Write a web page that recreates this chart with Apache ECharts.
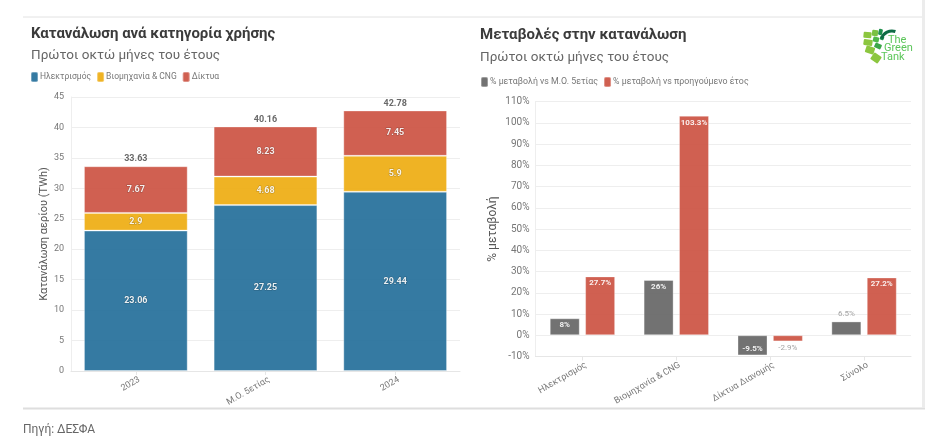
<!DOCTYPE html>
<html><head><meta charset="utf-8">
<style>html,body{margin:0;padding:0;background:#fff}#c{width:925px;height:447px}</style>
<script src="https://cdn.jsdelivr.net/npm/echarts@6/dist/echarts.min.js"></script>
</head><body><div id="c"></div>
<script>
const periods = ['2023','Μ.Ο. 5ετίας','2024'];
const electricity = [23.06,27.25,29.44];
const industry = [2.9,4.68,5.9];
const networks = [7.67,8.23,7.45];
const totals = [33.63,40.16,42.78];
const categories = ['Ηλεκτρισμός','Βιομηχανία & CNG','Δίκτυα Διανομής','Σύνολο'];
const vsAverage = [8,26,-9.5,6.5];
const vsPrevious = [27.7,103.3,-2.9,27.2];
const FONT = 'Roboto,"Noto Sans",sans-serif';
const BLUE='#1f6b98', YEL='#edab0c', RED='#cb4f3e', GRY='#636363';
const chart = echarts.init(document.getElementById('c'),null,{renderer:'canvas'});
const barStyle = c => ({color:c,opacity:0.9,borderColor:'rgba(255,255,255,0.35)',borderWidth:1});
const whiteLbl = {show:true,color:'#fff',fontSize:9,fontWeight:'bold',fontFamily:FONT,textBorderColor:'rgba(0,0,0,0.25)',textBorderWidth:1};
const stack = (name,data,c)=>({name,type:'bar',stack:'a',xAxisIndex:0,yAxisIndex:0,data,barWidth:'80%',itemStyle:barStyle(c),
  label:{...whiteLbl,position:'inside'}});
const pctLbl = (pos,inside)=>({show:true,position:pos,distance:inside?(pos==='insideBottom'?2:3):3,fontSize:8,fontFamily:FONT,formatter:p=>p.value+'%',
  color:inside?'#fff':'#999',fontWeight:inside?'bold':'normal'});
const axisText = {color:'#777',fontFamily:FONT};
const lines = [[23,17,925,17,'#e2e2e2',1],[23,408.5,925,408.5,'#dedede',2]];
const logoCells = [[867.5,35,8,6,-5,'#8cc63f'],[875,33,6,6,-8,'#7ac143'],[880.5,32,4,6,-12,'#1f8f4d'],
  [868,42.5,9,6,-8,'#8cc63f'],[876,39.5,6,5,-14,'#4db848'],[882,38,4,4,-20,'#1f8f4d'],
  [870,50,9,7,-18,'#8cc63f'],[878,46,7,5,-25,'#3aa648'],[876,58,9,8,-35,'#8cc63f']];
chart.setOption({
  animation:false,
  textStyle:{fontFamily:FONT},
  title:[
    {text:'Κατανάλωση ανά κατηγορία χρήσης',subtext:'Πρώτοι οκτώ μήνες του έτους',left:26,top:22,itemGap:7,
     textStyle:{fontSize:15,fontWeight:'bold',color:'#3b3b3b',fontFamily:FONT},subtextStyle:{fontSize:13.5,color:'#666',fontFamily:FONT}},
    {text:'Μεταβολές στην κατανάλωση',subtext:'Πρώτοι οκτώ μήνες του έτους',left:475,top:23,itemGap:8,
     textStyle:{fontSize:15,fontWeight:'bold',color:'#3b3b3b',fontFamily:FONT},subtextStyle:{fontSize:13.5,color:'#666',fontFamily:FONT}}
  ],
  legend:[
    {left:25,top:66,itemWidth:7,itemHeight:10,itemGap:5,icon:'roundRect',data:['Ηλεκτρισμός','Βιομηχανία & CNG','Δίκτυα'],
     textStyle:{fontSize:8.5,color:'#777',fontFamily:FONT,padding:[0,0,0,-3]}},
    {left:475,top:71,itemWidth:7,itemHeight:10,itemGap:5,icon:'roundRect',data:['% μεταβολή vs Μ.Ο. 5ετίας','% μεταβολή vs προηγούμενο έτος'],
     textStyle:{fontSize:8.8,color:'#777',fontFamily:FONT,padding:[0,0,0,-3]}}
  ],
  grid:[
    {left:71,top:97,width:389,height:274,containLabel:false},
    {left:535.5,top:101.5,width:375.5,height:255,containLabel:false}
  ],
  xAxis:[
    {type:'category',gridIndex:0,data:periods,axisTick:{show:true,alignWithLabel:true,length:4,lineStyle:{color:'#e6e6e6'}},axisLine:{lineStyle:{color:'#e6e6e6'}},
     axisLabel:{...axisText,fontSize:9,rotate:30,margin:10,padding:[0,-4,0,0]}},
    {type:'category',gridIndex:1,data:categories,axisTick:{show:true,alignWithLabel:true,length:4,lineStyle:{color:'#e6e6e6'}},axisLine:{onZero:false,lineStyle:{color:'#e6e6e6'}},
     axisLabel:{...axisText,fontSize:9,rotate:30,margin:10,padding:[0,-4,0,0]}}
  ],
  yAxis:[
    {type:'value',gridIndex:0,min:0,max:45,interval:5,name:'Κατανάλωση αερίου (TWh)',nameLocation:'middle',nameGap:20,
     nameTextStyle:{fontSize:11,color:'#555',fontFamily:FONT},
     axisLine:{show:true,lineStyle:{color:'#eee'}},axisTick:{show:false},splitLine:{lineStyle:{color:'#eee'}},axisLabel:{...axisText,fontSize:9,margin:7}},
    {type:'value',gridIndex:1,min:-10,max:110,interval:10,name:'% μεταβολή',nameLocation:'middle',nameGap:37,
     nameTextStyle:{fontSize:12,color:'#555',fontFamily:FONT},
     axisLine:{show:true,lineStyle:{color:'#eee'}},axisTick:{show:false},splitLine:{lineStyle:{color:'#eee'}},axisLabel:{...axisText,fontSize:10,margin:6,formatter:'{value}%'}}
  ],
  series:[
    stack('Ηλεκτρισμός',electricity,BLUE),
    stack('Βιομηχανία & CNG',industry,YEL),
    stack('Δίκτυα',networks,RED),
    {name:'Σύνολο',type:'scatter',xAxisIndex:0,yAxisIndex:0,data:totals,symbolSize:1,itemStyle:{color:'transparent'},silent:true,z:5,
     label:{show:true,position:'top',distance:2,fontSize:9,fontWeight:'bold',color:'#444',fontFamily:FONT}},
    {name:'% μεταβολή vs Μ.Ο. 5ετίας',type:'bar',xAxisIndex:1,yAxisIndex:1,barWidth:30,barGap:'18%',itemStyle:barStyle(GRY),
     data:vsAverage.map(v=>({value:v,label:v===6.5?pctLbl('top',false):pctLbl(v<0?'insideBottom':'insideTop',true)}))},
    {name:'% μεταβολή vs προηγούμενο έτος',type:'bar',xAxisIndex:1,yAxisIndex:1,barWidth:30,itemStyle:barStyle(RED),
     data:vsPrevious.map(v=>({value:v,label:v<0?pctLbl('bottom',false):pctLbl('insideTop',true)}))}
  ],
  graphic:[
    ...lines.map(l=>({type:'line',silent:true,shape:{x1:l[0],y1:l[1],x2:l[2],y2:l[3]},style:{stroke:l[4],lineWidth:l[5]}})),
    {type:'rect',silent:true,shape:{x:922,y:0,width:3,height:408},style:{fill:'#ececec'}},
    ...logoCells.map(r=>({type:'rect',silent:true,x:r[0],y:r[1],rotation:r[4]*Math.PI/180,shape:{x:-r[2]/2,y:-r[3]/2,width:r[2],height:r[3],r:1},style:{fill:r[5]}})),
    {type:'arc',silent:true,shape:{cx:892,cy:42,r:11,startAngle:Math.PI*1.1,endAngle:Math.PI*1.6},style:{stroke:'#0f6b45',lineWidth:3,fill:'none'}},
    {type:'text',silent:true,x:888,y:34.5,style:{text:'The',fontSize:11,fill:'#5cc65a',fontFamily:FONT}},
    {type:'text',silent:true,x:884,y:43,style:{text:'Green',fontSize:11,fill:'#5cc65a',fontFamily:FONT}},
    {type:'text',silent:true,x:881,y:52,style:{text:'Tank',fontSize:11,fill:'#5cc65a',fontFamily:FONT}},
    {type:'text',silent:true,x:23,y:424,style:{text:'Πηγή: ΔΕΣΦΑ',fontSize:12,fill:'#666',fontFamily:FONT}}
  ]
});
</script></body></html>
